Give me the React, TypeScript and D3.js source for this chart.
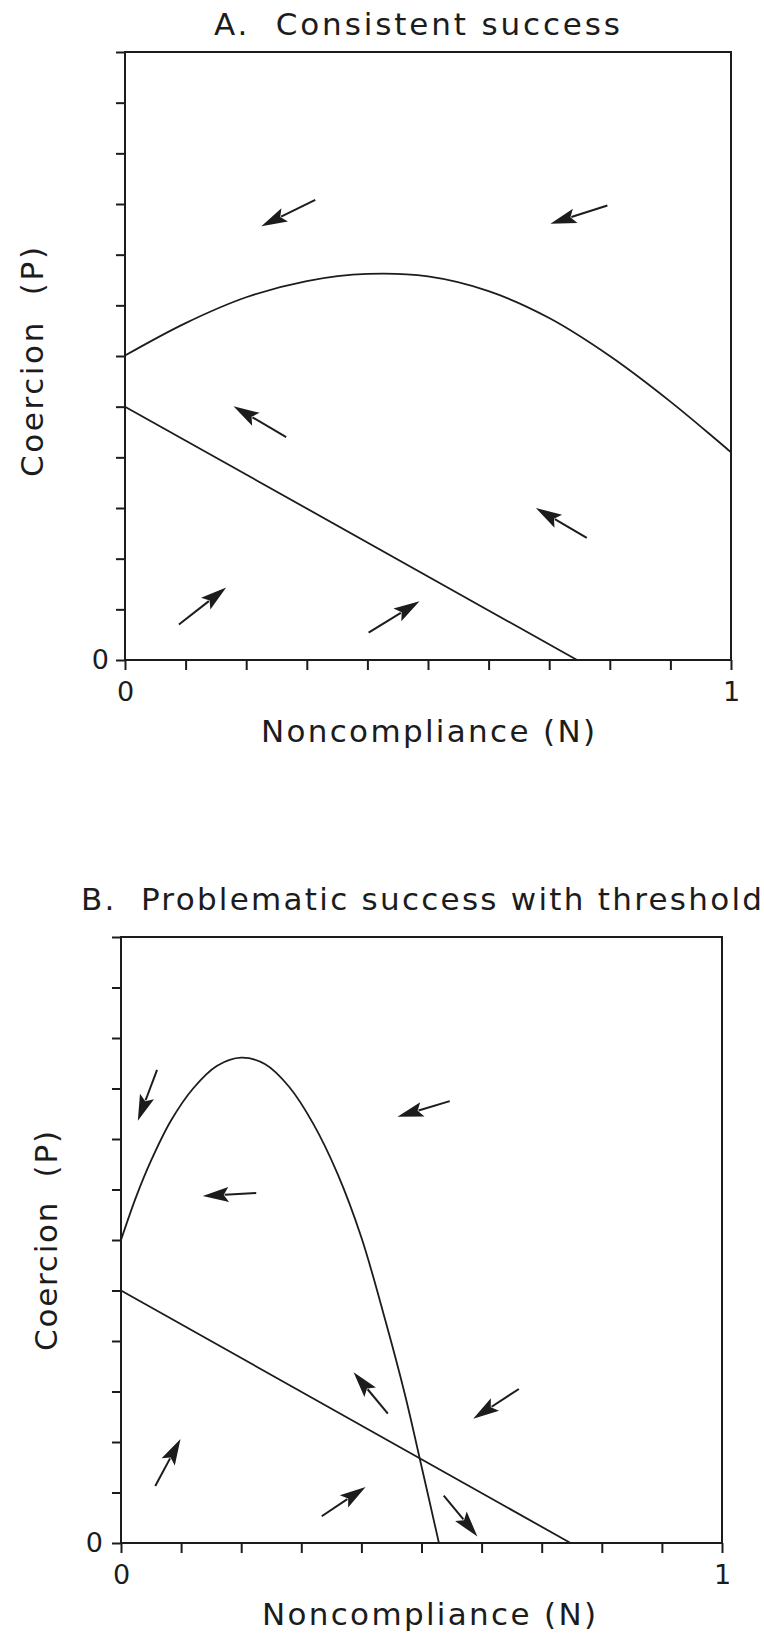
import React, { useEffect, useRef } from 'react';
import * as d3 from 'd3';

// axis ticks (every 0.1, only the ends carry a label)
const xTicks = [0, 0.1, 0.2, 0.3, 0.4, 0.5, 0.6, 0.7, 0.8, 0.9, 1];
const yTicks = [0, 0.1, 0.2, 0.3, 0.4, 0.5, 0.6, 0.7, 0.8, 0.9, 1.0, 1.1, 1.2];
const xLabelled = [0, 1];
const yLabelled = [0];

const xTitle = 'Noncompliance (N)';
const yTitle = 'Coercion  (P)';

// Panel A: Consistent success
const titleA = 'A.  Consistent success';
const curveA: [number, number][] = [
  [0, 0.601], [0.1, 0.665], [0.2, 0.716], [0.3, 0.748], [0.4, 0.762],
  [0.5, 0.757], [0.6, 0.728], [0.7, 0.675], [0.8, 0.6], [0.9, 0.51], [1, 0.41]
];
const lineA: [number, number][] = [[0, 0.5], [0.746, 0]];
// tail N, tail P, head N, head P
const arrowsA: number[][] = [
  [0.314, 0.908, 0.225, 0.856],
  [0.796, 0.897, 0.702, 0.861],
  [0.266, 0.44, 0.179, 0.501],
  [0.762, 0.241, 0.678, 0.3],
  [0.089, 0.07, 0.167, 0.143],
  [0.402, 0.054, 0.486, 0.116]
];

// Panel B: Problematic success with threshold
const titleB = 'B.  Problematic success with threshold';
const curveB: [number, number][] = [
  [0, 0.6], [0.025, 0.685], [0.05, 0.757], [0.083, 0.836], [0.12, 0.9],
  [0.16, 0.945], [0.2, 0.961], [0.24, 0.948], [0.28, 0.903], [0.32, 0.83],
  [0.36, 0.732], [0.4, 0.605], [0.44, 0.44], [0.472, 0.296], [0.5, 0.152], [0.529, 0]
];
const lineB: [number, number][] = [[0, 0.5], [0.748, 0]];
const arrowsB: number[][] = [
  [0.06, 0.937, 0.028, 0.836],
  [0.547, 0.875, 0.46, 0.844],
  [0.225, 0.693, 0.136, 0.687],
  [0.444, 0.256, 0.387, 0.338],
  [0.662, 0.305, 0.586, 0.246],
  [0.057, 0.113, 0.099, 0.206],
  [0.334, 0.053, 0.407, 0.111],
  [0.537, 0.094, 0.593, 0.013]
];

const FONT = '"DejaVu Sans", sans-serif';
const INK = '#1c1c1c';

const drawPanel = (svg, p) => {
  const x = d3.scaleLinear().domain([0, 1]).range([p.left, p.right]);
  const y = d3.scaleLinear().domain([0, 1.2]).range([p.bottom, p.top]);
  const g = svg.append('g');

  // title
  g.append('text')
    .attr('x', p.titleX)
    .attr('y', p.titleY)
    .attr('textLength', p.titleW)
    .attr('lengthAdjust', 'spacing')
    .style('white-space', 'pre')
    .style('font-family', FONT)
    .style('font-size', '31px')
    .attr('fill', INK)
    .text(p.title);

  // axes
  const xAxis = d3.axisBottom(x)
    .tickValues(xTicks)
    .tickSize(10)
    .tickSizeOuter(0)
    .tickPadding(12)
    .tickFormat(d => (xLabelled.includes(d) ? String(d) : ''));
  const yAxis = d3.axisLeft(y)
    .tickValues(yTicks)
    .tickSize(9)
    .tickSizeOuter(0)
    .tickPadding(p.yPad)
    .tickFormat(d => (yLabelled.includes(d) ? String(d) : ''));

  [g.append('g').attr('transform', `translate(0,${p.bottom})`).call(xAxis),
   g.append('g').attr('transform', `translate(${p.left},0)`).call(yAxis)]
    .forEach(a => {
      a.select('.domain').remove();
      a.selectAll('line').attr('stroke', INK).attr('stroke-width', 2);
      a.selectAll('text')
        .attr('fill', INK)
        .style('font-family', FONT)
        .style('font-size', '27px');
    });

  // frame
  g.append('rect')
    .attr('x', p.left)
    .attr('y', p.top)
    .attr('width', p.right - p.left)
    .attr('height', p.bottom - p.top)
    .attr('fill', 'none')
    .attr('stroke', INK)
    .attr('stroke-width', 2);

  // axis titles
  g.append('text')
    .attr('x', p.xTitleX)
    .attr('y', p.bottom + 82)
    .attr('textLength', 334)
    .attr('lengthAdjust', 'spacing')
    .style('font-family', FONT)
    .style('font-size', '31px')
    .attr('fill', INK)
    .text(xTitle);

  g.append('text')
    .attr('transform', `translate(${p.yTitleX},${p.yTitleY}) rotate(-90)`)
    .attr('text-anchor', 'middle')
    .attr('textLength', p.yTitleW)
    .attr('lengthAdjust', 'spacing')
    .style('white-space', 'pre')
    .style('font-family', FONT)
    .style('font-size', '31px')
    .attr('fill', INK)
    .text(yTitle);

  // isoclines
  const line = d3.line<[number, number]>()
    .x(d => x(d[0]))
    .y(d => y(d[1]));

  g.append('path')
    .attr('d', line.curve(d3.curveCatmullRom.alpha(0.5))(p.curve))
    .attr('fill', 'none')
    .attr('stroke', INK)
    .attr('stroke-width', 1.8);

  g.append('path')
    .attr('d', line.curve(d3.curveLinear)(p.line))
    .attr('fill', 'none')
    .attr('stroke', INK)
    .attr('stroke-width', 1.8);

  // direction arrows
  const headLen = 26;
  const headW = 7.5;
  p.arrows.forEach(a => {
    const x1 = x(a[0]), y1 = y(a[1]), x2 = x(a[2]), y2 = y(a[3]);
    const len = Math.hypot(x2 - x1, y2 - y1);
    const ux = (x2 - x1) / len, uy = (y2 - y1) / len;
    const bx = x2 - ux * headLen, by = y2 - uy * headLen;
    g.append('line')
      .attr('x1', x1).attr('y1', y1)
      .attr('x2', bx + ux * 4).attr('y2', by + uy * 4)
      .attr('stroke', INK)
      .attr('stroke-width', 2);
    g.append('path')
      .attr('d', `M${x2},${y2}L${bx - uy * headW},${by + ux * headW}L${bx + ux * 5},${by + uy * 5}L${bx + uy * headW},${by - ux * headW}Z`)
      .attr('fill', INK);
  });
};

const App = () => {
  const svgRef = useRef(null);

  useEffect(() => {
    const svg = d3.select(svgRef.current);
    svg.selectAll('*').remove();

    drawPanel(svg, {
      title: titleA, curve: curveA, line: lineA, arrows: arrowsA,
      left: 125, right: 731, top: 52, bottom: 660,
      titleX: 214, titleY: 35, titleW: 406,
      xTitleX: 261, yTitleX: 43, yTitleY: 362, yTitleW: 230, yPad: 7
    });

    drawPanel(svg, {
      title: titleB, curve: curveB, line: lineB, arrows: arrowsB,
      left: 121, right: 722, top: 937, bottom: 1543,
      titleX: 81, titleY: 910, titleW: 681,
      xTitleX: 262, yTitleX: 57, yTitleY: 1241, yTitleW: 220, yPad: 9
    });
  }, []);

  return (
    <div style={{ position: 'absolute', top: 0, left: 0, background: '#fff' }}>
      <svg ref={svgRef} width={764} height={1637} style={{ display: 'block' }} />
    </div>
  );
};

export default App;
